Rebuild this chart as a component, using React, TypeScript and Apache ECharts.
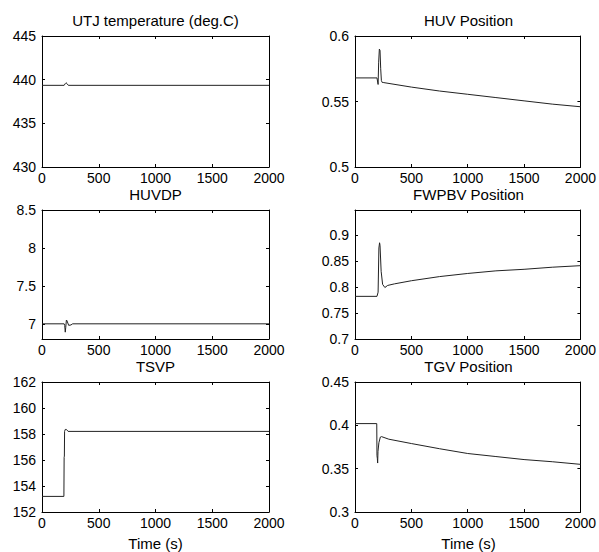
import React, { useEffect, useRef } from "react";
import * as echarts from "echarts";

// ---- data (time in s, value) ----
const utjT = [0, 195, 205, 212, 220, 232, 2000];
const utjV = [439.35, 439.35, 439.55, 439.65, 439.55, 439.35, 439.35];

const huvT = [0, 195, 205, 210, 216, 222, 228, 234, 242, 250, 500, 750, 1000, 1250, 1500, 1750, 2000];
const huvV = [0.568, 0.568, 0.563, 0.58, 0.59, 0.589, 0.575, 0.566, 0.5645, 0.5645, 0.561, 0.558, 0.5555, 0.553, 0.5505, 0.548, 0.546];

const huvdpT = [0, 195, 200, 205, 209, 215, 220, 235, 255, 270, 2000];
const huvdpV = [7.0, 7.0, 6.98, 6.89, 6.95, 7.05, 7.04, 6.98, 6.985, 7.0, 7.0];

const fwT = [0, 195, 205, 212, 218, 222, 232, 245, 265, 290, 350, 500, 750, 1000, 1250, 1500, 1750, 2000];
const fwV = [0.782, 0.782, 0.79, 0.875, 0.885, 0.88, 0.83, 0.805, 0.799, 0.803, 0.806, 0.812, 0.82, 0.826, 0.831, 0.834, 0.838, 0.841];

const tsvpT = [0, 193, 195, 197, 199, 205, 215, 230, 2000];
const tsvpV = [153.2, 153.2, 156.2, 156.3, 158.2, 158.35, 158.35, 158.2, 158.2];

const tgvT = [0, 193, 195, 198, 201, 204, 212, 225, 235, 300, 500, 750, 1000, 1250, 1500, 1750, 2000];
const tgvV = [0.402, 0.402, 0.365, 0.362, 0.3565, 0.37, 0.38, 0.3865, 0.387, 0.384, 0.379, 0.373, 0.3675, 0.364, 0.3605, 0.358, 0.355];

const titles = ["UTJ temperature (deg.C)", "HUV Position", "HUVDP", "FWPBV Position", "TSVP", "TGV Position"];
const yMins = [430, 0.5, 6.8, 0.7, 152, 0.3];
const yMaxs = [445, 0.6, 8.5, 0.948, 162, 0.45];
const yTicks = [
  [430, 435, 440, 445],
  [0.5, 0.55, 0.6],
  [7, 7.5, 8, 8.5],
  [0.7, 0.75, 0.8, 0.85, 0.9],
  [152, 154, 156, 158, 160, 162],
  [0.3, 0.35, 0.4, 0.45],
];
const xTicks = [0, 500, 1000, 1500, 2000];
const xLabel = "Time (s)";

const seriesT = [utjT, huvT, huvdpT, fwT, tsvpT, tgvT];
const seriesV = [utjV, huvV, huvdpV, fwV, tsvpV, tgvV];

// ---- layout ----
const colLeft = [42, 355];
const colWidth = 227;
const rowTop = [36, 210, 382];
const rowHeight = [131, 129, 130];
const FONT = "Liberation Sans";

export default function App() {
  const ref = useRef<HTMLDivElement>(null);
  useEffect(() => {
    document.body.style.margin = "0";
    if (!ref.current) return;
    const chart = echarts.init(ref.current, undefined, { renderer: "svg" });

    const grids: any[] = [];
    const xAxes: any[] = [];
    const yAxes: any[] = [];
    const series: any[] = [];
    const graphics: any[] = [];

    const lineStyle = { color: "#000", width: 1 };
    const fmtFor = (ticks: number[]) => (v: number) => {
      const hit = ticks.find((t) => Math.abs(t - v) < 1e-9);
      return hit === undefined ? "" : String(hit);
    };

    for (let i = 0; i < 6; i++) {
      const col = i % 2;
      const row = Math.floor(i / 2);
      const left = colLeft[col];
      const top = rowTop[row];
      const h = rowHeight[row];
      grids.push({ left, top, width: colWidth, height: h, containLabel: false });

      const xBase = {
        type: "value",
        gridIndex: i,
        min: xTicks[0],
        max: xTicks[xTicks.length - 1],
        interval: 500,
        splitLine: { show: false },
        axisLine: { show: true, onZero: false, lineStyle },
        axisTick: { show: true, inside: true, length: 3, lineStyle, customValues: xTicks },
      };
      xAxes.push({
        ...xBase,
        position: "bottom",
        axisLabel: {
          show: true,
          margin: 4,
          color: "#000",
          fontSize: 14,
          lineHeight: 14,
          fontFamily: FONT,
          customValues: xTicks,
          formatter: fmtFor(xTicks),
        },
      });
      xAxes.push({ ...xBase, position: "top", axisLabel: { show: false } });

      const yBase = {
        type: "value",
        gridIndex: i,
        min: yMins[i],
        max: yMaxs[i],
        splitLine: { show: false },
        axisLine: { show: true, onZero: false, lineStyle },
        axisTick: { show: true, inside: true, length: 3, lineStyle, customValues: yTicks[i] },
      };
      yAxes.push({
        ...yBase,
        position: "left",
        axisLabel: {
          show: true,
          margin: 6,
          color: "#000",
          fontSize: 14,
          lineHeight: 14,
          fontFamily: FONT,
          customValues: yTicks[i],
          formatter: fmtFor(yTicks[i]),
        },
      });
      yAxes.push({ ...yBase, position: "right", axisLabel: { show: false } });

      const t = seriesT[i];
      const v = seriesV[i];
      series.push({
        type: "line",
        xAxisIndex: i * 2,
        yAxisIndex: i * 2,
        data: t.map((x, k) => [x, v[k]]),
        showSymbol: false,
        symbol: "none",
        lineStyle: { color: "#222", width: 1 },
        silent: true,
      });

      graphics.push({
        type: "text",
        x: left + colWidth / 2,
        y: top - 16,
        style: {
          text: titles[i],
          fill: "#000",
          font: `15px "${FONT}"`,
          textAlign: "center",
          textVerticalAlign: "middle",
        },
        z: 10,
      });
      if (row === 2) {
        graphics.push({
          type: "text",
          x: left + colWidth / 2,
          y: top + h + 31,
          style: {
            text: xLabel,
            fill: "#000",
            font: `15px "${FONT}"`,
            textAlign: "center",
            textVerticalAlign: "middle",
          },
        });
      }
    }

    chart.setOption({
      animation: false,
      backgroundColor: "#fff",
      grid: grids,
      xAxis: xAxes,
      yAxis: yAxes,
      series,
      graphic: graphics,
    });
    return () => chart.dispose();
  }, []);
  return <div ref={ref} style={{ width: 599, height: 552 }} />;
}
